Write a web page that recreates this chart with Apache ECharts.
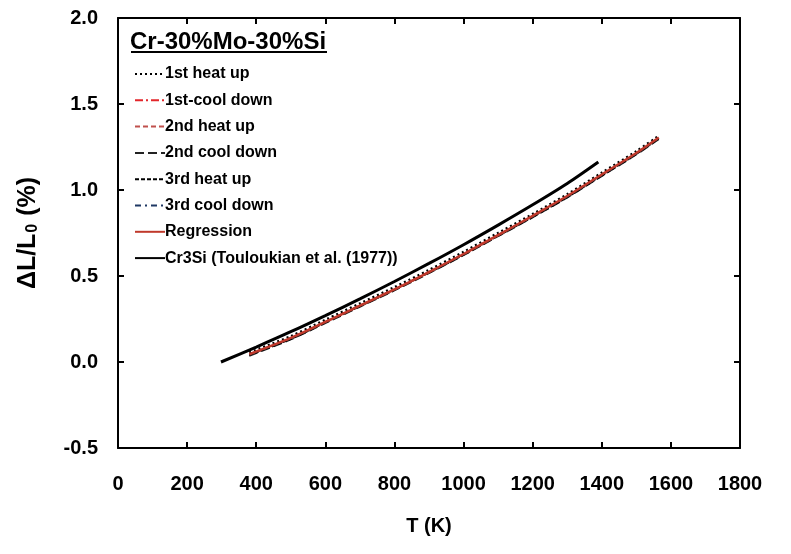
<!DOCTYPE html>
<html>
<head>
<meta charset="utf-8">
<script src="https://cdn.jsdelivr.net/npm/echarts@6/dist/echarts.min.js"></script>
<style>
  html, body { margin: 0; padding: 0; background: #fff; }
  #chart { width: 791px; height: 554px; }
</style>
</head>
<body>
<div id="chart"></div>
<script>
// temperatures (K) and expansion (%)
const tData = [380, 500, 600, 700, 800, 900, 1000, 1100, 1200, 1300, 1400, 1500, 1565];
const heat1 = [0.055, 0.15, 0.245, 0.34, 0.435, 0.535, 0.64, 0.75, 0.86, 0.975, 1.10, 1.225, 1.315];
const cool1 = [0.045, 0.14, 0.235, 0.33, 0.425, 0.525, 0.63, 0.74, 0.85, 0.965, 1.09, 1.215, 1.305];
const heat2 = [0.04, 0.135, 0.23, 0.325, 0.42, 0.52, 0.625, 0.735, 0.845, 0.96, 1.085, 1.21, 1.30];
const cool2 = [0.035, 0.13, 0.225, 0.32, 0.415, 0.515, 0.62, 0.73, 0.84, 0.955, 1.08, 1.205, 1.295];
const heat3 = [0.04, 0.132, 0.228, 0.323, 0.418, 0.518, 0.622, 0.732, 0.842, 0.957, 1.082, 1.208, 1.298];
const cool3 = [0.045, 0.138, 0.232, 0.328, 0.422, 0.522, 0.627, 0.737, 0.847, 0.962, 1.087, 1.212, 1.302];
const regression = [0.045, 0.14, 0.233, 0.328, 0.422, 0.523, 0.628, 0.738, 0.85, 0.965, 1.09, 1.215, 1.305];

const tCr3Si = [298, 400, 500, 600, 700, 800, 900, 1000, 1100, 1200, 1300, 1390];
const cr3si = [0, 0.087, 0.176, 0.27, 0.367, 0.468, 0.573, 0.682, 0.796, 0.914, 1.038, 1.163];

const xTicks = { min: 0, max: 1800, interval: 200 };
const yTicks = { min: -0.5, max: 2.0, interval: 0.5 };

function pairs(xs, ys) { return xs.map((x, i) => [x, ys[i]]); }

function lineSeries(name, xs, ys, color, type, width, z) {
  return {
    name: name, type: 'line', data: pairs(xs, ys),
    showSymbol: false, symbol: 'none', smooth: 0.3, z: z || 2,
    lineStyle: { color: color, type: type, width: width },
    itemStyle: { color: color }
  };
}

const chart = echarts.init(document.getElementById('chart'));
const font = 'Arial, "Liberation Sans", sans-serif';

chart.setOption({
  animation: false,
  textStyle: { fontFamily: font },
  grid: { left: 118, right: 51, top: 18, bottom: 106 },
  graphic: [
    { type: 'text', x: 130, y: 42,
      style: { text: 'Cr-30%Mo-30%Si', font: 'bold 24px ' + font, fill: '#000', verticalAlign: 'middle' } },
    { type: 'line', shape: { x1: 131, y1: 52, x2: 327, y2: 52 },
      style: { stroke: '#000', lineWidth: 2 } }
  ],
  legend: {
    orient: 'vertical', left: 129, top: 61,
    itemWidth: 30, itemHeight: 14, itemGap: 10.3,
    itemStyle: { opacity: 0 },
    textStyle: { fontFamily: font, fontSize: 16, lineHeight: 16, fontWeight: 'bold', color: '#000', padding: [0, 0, 0, -5] },
    data: ['1st heat up', '1st-cool down', '2nd heat up', '2nd cool down', '3rd heat up', '3rd cool down', 'Regression', 'Cr3Si (Touloukian et al. (1977))']
  },
  xAxis: [{
    type: 'value', min: xTicks.min, max: xTicks.max, interval: xTicks.interval,
    name: 'T (K)', nameLocation: 'middle', nameGap: 68,
    nameTextStyle: { fontSize: 20, fontWeight: 'bold', color: '#000' },
    axisLine: { onZero: false, lineStyle: { color: '#000', width: 2 } },
    axisTick: { inside: true, length: 6, lineStyle: { width: 2 } },
    axisLabel: { margin: 26, fontSize: 20, fontWeight: 'bold', color: '#000', formatter: v => String(v) },
    splitLine: { show: false }
  }, {
    type: 'value', position: 'top', min: xTicks.min, max: xTicks.max, interval: xTicks.interval,
    axisLine: { onZero: false, lineStyle: { color: '#000', width: 2 } },
    axisTick: { inside: true, length: 6, lineStyle: { width: 2 } },
    axisLabel: { show: false }, splitLine: { show: false }
  }],
  yAxis: [{
    type: 'value', min: yTicks.min, max: yTicks.max, interval: yTicks.interval,
    name: 'ΔL/L{sub|0} (%)', nameLocation: 'middle', nameGap: 77, nameRotate: 90,
    nameTextStyle: { fontSize: 25, fontWeight: 'bold', color: '#000',
      rich: { sub: { fontSize: 16, fontWeight: 'bold', verticalAlign: 'bottom', padding: [10, 1, 0, 1] } } },
    axisLine: { onZero: false, lineStyle: { color: '#000', width: 2 } },
    axisTick: { inside: true, length: 6, lineStyle: { width: 2 } },
    axisLabel: { margin: 20, fontSize: 20, fontWeight: 'bold', color: '#000',
      formatter: v => v.toFixed(1) },
    splitLine: { show: false }
  }, {
    type: 'value', position: 'right', min: yTicks.min, max: yTicks.max, interval: yTicks.interval,
    axisLine: { onZero: false, lineStyle: { color: '#000', width: 2 } },
    axisTick: { inside: true, length: 6, lineStyle: { width: 2 } },
    axisLabel: { show: false }, splitLine: { show: false }
  }],
  series: [
    lineSeries('1st heat up', tData, heat1, '#000', [2, 3], 2.5, 2),
    lineSeries('1st-cool down', tData, cool1, '#e3262b', [8, 3, 2, 3], 1.5, 2),
    lineSeries('2nd heat up', tData, heat2, '#c0504d', [5, 3], 1.5, 2),
    lineSeries('2nd cool down', tData, cool2, '#222', [9, 4], 1.5, 2),
    lineSeries('3rd heat up', tData, heat3, '#000', [4, 2], 1.5, 2),
    lineSeries('3rd cool down', tData, cool3, '#1f3864', [6, 4, 2, 4], 1.5, 2),
    lineSeries('Regression', tData, regression, '#c0392b', 'solid', 2.5, 3),
    lineSeries('Cr3Si (Touloukian et al. (1977))', tCr3Si, cr3si, '#000', 'solid', 3, 4)
  ]
});
</script>
</body>
</html>
